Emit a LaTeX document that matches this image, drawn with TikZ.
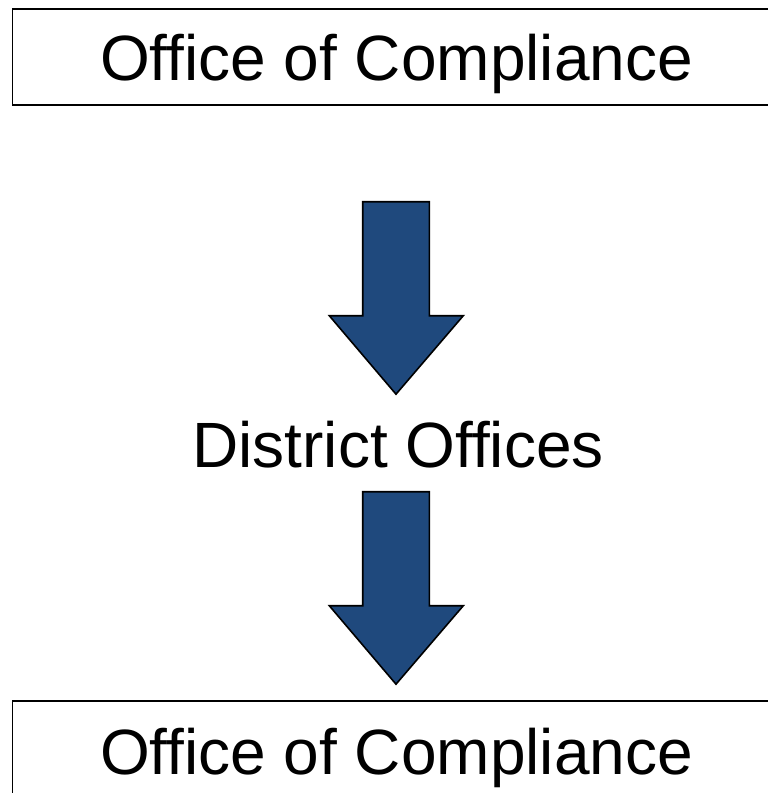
\documentclass[tikz,border=0pt]{standalone}
\usepackage{fontspec}
\setmainfont{Liberation Sans}
\definecolor{arrowblue}{RGB}{31,73,125}
\begin{document}
\begin{tikzpicture}[x=1pt,y=-1pt,
  boxline/.style={draw=black,line width=1.5pt,fill=white},
  label/.style={anchor=base,inner sep=0pt,font=\fontsize{64}{76}\selectfont},
  blockarrow/.style={fill=arrowblue,draw=black,line width=1.6pt,line join=miter}]
\useasboundingbox (0,0) rectangle (768,793);
\clip (0,0) rectangle (768,793);
\fill[white] (0,0) rectangle (768,793);
% boxes
\draw[boxline] (12.5,9) rectangle (790,105);
\draw[boxline] (12.5,701) rectangle (790,810);
% texts
\node[label] (top) at (396.5,80.5) {Office of Compliance};
\node[label] (mid) at (398,467) {District Offices};
\node[label] (bot) at (396.5,774) {Office of Compliance};
% arrows
\foreach \y/\n in {201.7/a1,491.7/a2}{
  \draw[blockarrow] (362.7,\y) -- (429.3,\y) -- (429.3,\y+114) -- (463.3,\y+114)
    -- (396,\y+192.5) -- (329.3,\y+114) -- (362.7,\y+114) -- cycle;
}
\end{tikzpicture}
\end{document}
